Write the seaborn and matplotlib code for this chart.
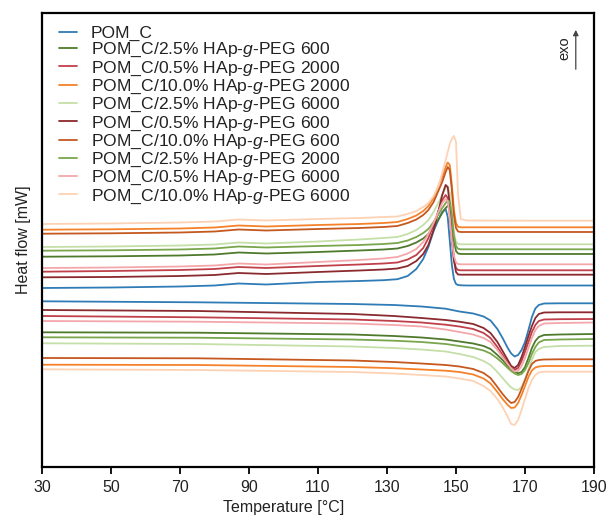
import matplotlib
matplotlib.use("Agg")
import matplotlib.pyplot as plt
import pandas as pd
import seaborn as sns
from matplotlib.lines import Line2D

# sample names (legend order) and colours
samples = [
    "POM_C",
    "POM_C/2.5% HAp-$\\mathit{g}$-PEG 600",
    "POM_C/0.5% HAp-$\\mathit{g}$-PEG 2000",
    "POM_C/10.0% HAp-$\\mathit{g}$-PEG 2000",
    "POM_C/2.5% HAp-$\\mathit{g}$-PEG 6000",
    "POM_C/0.5% HAp-$\\mathit{g}$-PEG 600",
    "POM_C/10.0% HAp-$\\mathit{g}$-PEG 600",
    "POM_C/2.5% HAp-$\\mathit{g}$-PEG 2000",
    "POM_C/0.5% HAp-$\\mathit{g}$-PEG 6000",
    "POM_C/10.0% HAp-$\\mathit{g}$-PEG 6000",
]
colors = ["#2f7bb6", "#4f7a2c", "#c0404a", "#f5822a", "#c5dfa8",
          "#8a2a2e", "#c4581f", "#79a64c", "#f4a7aa", "#fdd2b4"]

# temperature grids [°C]
T_cool = [30, 50, 70, 80, 87, 95, 110, 122, 129, 133, 136, 138.5, 140.5, 142, 143.5,
          145, 146, 147, 147.6, 148.2, 148.8, 149.4, 150, 150.6, 151.4, 153, 170, 190]
T_heat = [30, 75, 120, 132, 140, 147, 151, 155, 158, 160, 162, 163.5, 165, 166, 167,
          168, 169, 170, 171, 172, 173, 174, 175.5, 180, 190]

# heat flow, cooling runs (shifted, exo up)
cool_pom = [179, 179.5, 180.5, 181.5, 183.5, 182.5, 185, 186, 186.8, 187.8, 191, 198, 208, 220,
            236, 248, 255, 258, 250, 226, 202, 188, 183, 182, 181.7, 181.5, 181.5, 181.5]
cool_25_600 = [210.3, 210.7, 211.5, 212.5, 214.5, 213.5, 215, 216.5, 217.5, 218.5, 221, 224.5, 228.5,
               233, 240, 248, 254, 259, 261, 260, 247, 227, 216, 213.5, 213, 213, 213, 213]
cool_05_2000 = [195.3, 196, 197, 198, 200, 199, 201, 202.5, 203.5, 204.5, 207.5, 212, 219, 229,
                242, 257, 267, 272, 269, 252, 227, 207, 199, 197, 196.7, 196.7, 196.7, 196.7]
cool_10_2000 = [237.3, 237.7, 238.5, 239.5, 241.5, 240.5, 242, 243, 244, 245, 248, 251.5, 256, 261,
                269, 282, 290, 300, 304.5, 302, 282, 257, 244, 240.2, 239.7, 239.7, 239.7, 239.7]
cool_25_6000 = [220, 220.5, 221.5, 222.5, 224.5, 223.5, 225.5, 227.5, 229, 230, 233, 237, 242, 247,
                255, 265, 272, 279, 280, 274, 257, 235, 225, 223, 222.7, 222.7, 222.7, 222.7]
cool_05_600 = [189.7, 190, 191, 192, 194, 193, 195, 196.5, 197.5, 198.5, 201, 206, 213, 222,
               237, 257, 272, 282, 280, 262, 232, 207, 195, 192.5, 192.3, 192.3, 192.3, 192.3]
cool_10_600 = [233.3, 233.7, 234.5, 235.5, 237.5, 236.5, 238, 239, 240, 241, 244, 247.5, 252, 257,
               265, 277, 285, 295, 300, 297, 277, 252, 239, 235.5, 235, 235, 235, 235]
cool_25_2000 = [216.3, 216.7, 217.5, 218.5, 220.5, 219.5, 221, 222, 223, 224, 226.5, 230, 234, 238,
                245, 253, 259, 264, 266.5, 265, 252, 231, 221, 218.2, 217.7, 217.7, 217.7, 217.7]
cool_05_6000 = [199, 199.5, 200.5, 201.5, 203.5, 202.5, 205, 207, 208.5, 210, 213.5, 218, 225, 233,
                244, 256, 264, 268, 266, 250, 227, 211, 204.5, 203, 202.7, 202.7, 202.7, 202.7]
cool_10_6000 = [243, 243.5, 244.5, 245.5, 247.5, 246.5, 248, 249, 250, 250.5, 253, 256, 260, 264,
                271, 282, 294, 307, 315, 323, 328, 331, 325, 272, 248, 246.5, 246.3, 246.3]

# heat flow, heating runs (shifted)
heat_pom = [165.7, 164.7, 163, 162, 160.5, 158.3, 155.5, 153.5, 150.5, 146.5, 138, 129, 119,
            113.5, 110.5, 112, 117, 125, 137, 150, 158.5, 162, 163.5, 163.7, 163.7]
heat_25_600 = [134.7, 134.3, 132.5, 131, 129.5, 127.5, 125.5, 123.5, 121, 118, 112, 107, 101,
               97.5, 95, 93.7, 95, 100, 109, 119, 126, 130, 132, 132.5, 133]
heat_05_2000 = [151, 149.7, 147.5, 146, 144.5, 142.3, 140.5, 138, 134, 129, 120, 112, 104,
                99, 97, 99, 106, 115, 125, 135, 142, 146, 147.5, 147.8, 148]
heat_10_2000 = [102.3, 102, 100, 98.8, 97.5, 96.3, 95, 92.5, 88.5, 83.5, 75, 68, 62,
                59, 59.5, 64, 72, 81, 90, 96.5, 99.5, 100.5, 101, 101, 101]
heat_25_6000 = [123.7, 123, 120.5, 119, 117.5, 115.5, 113, 110, 106, 102, 95, 89, 83,
                79.5, 77.5, 77, 80, 87, 97, 107, 115, 118, 120, 121, 121.3]
heat_05_600 = [157, 156, 153, 151, 149, 147, 145.3, 143, 139, 134, 125, 116, 107,
               101, 99, 102, 110, 120, 131, 141, 149, 153, 154.5, 154.7, 154.7]
heat_10_600 = [109, 108.7, 106.5, 105, 103.5, 102, 100.5, 98, 94, 89, 80, 73, 67,
               64, 65, 70, 78, 87, 96, 103, 106, 107, 107.5, 107.7, 107.7]
heat_25_2000 = [129.7, 129.3, 127.5, 126.3, 125, 123, 121, 119, 116.5, 113.5, 108.5, 104, 99,
                96, 93.5, 92, 93, 97, 104, 113, 120, 124.5, 127, 127.5, 128]
heat_05_6000 = [146, 145.3, 143.5, 142, 140.5, 137.5, 135, 132.5, 129, 125, 117, 110, 103,
                98.5, 95.5, 96, 101, 109, 119, 129, 137, 141, 143.5, 144, 144.5]
heat_10_6000 = [97.7, 97, 95, 93.5, 92, 90.5, 88.5, 86, 81, 76, 68, 60, 50,
                43, 42, 47, 57, 68, 79, 87, 92, 94.5, 95.3, 95.3, 95.3]

cool_runs = [cool_pom, cool_25_600, cool_05_2000, cool_10_2000, cool_25_6000,
             cool_05_600, cool_10_600, cool_25_2000, cool_05_6000, cool_10_6000]
heat_runs = [heat_pom, heat_25_600, heat_05_2000, heat_10_2000, heat_25_6000,
             heat_05_600, heat_10_600, heat_25_2000, heat_05_6000, heat_10_6000]

# long format table
rows = []
for name, c, h in zip(samples, cool_runs, heat_runs):
    for t, v in zip(T_cool, c):
        rows.append((name, name + " cool", t, v))
    for t, v in zip(T_heat, h):
        rows.append((name, name + " heat", t, v))
df = pd.DataFrame(rows, columns=["sample", "run", "T", "hf"])

sns.set_theme(style="ticks")
plt.rcParams["font.family"] = ["Liberation Sans", "DejaVu Sans"]
plt.rcParams["mathtext.fontset"] = "custom"
plt.rcParams["mathtext.it"] = "Liberation Sans:italic"
plt.rcParams["mathtext.rm"] = "Liberation Sans"

fig = plt.figure(figsize=(6.11, 5.25), dpi=100)
ax = fig.add_axes([42 / 611, 1 - 467 / 525, 552 / 611, 454 / 525])

sns.lineplot(data=df, x="T", y="hf", hue="sample", units="run", estimator=None,
             hue_order=samples, palette=colors, linewidth=1.3, sort=False,
             legend=False, ax=ax)

ax.set_xlim(30, 190)
ax.set_ylim(0, 454)
ax.set_xticks(range(30, 191, 20))
ax.set_yticks([])
ax.tick_params(axis="x", direction="out", length=5, width=1.3, labelsize=11.5,
               colors="black", pad=4)
ax.tick_params(axis="x", labelcolor="#222222")
for s in ax.spines.values():
    s.set_linewidth(1.6)
    s.set_color("black")
ax.set_xlabel("Temperature [°C]", fontsize=11.5, color="#222222", x=0.437)
ax.set_ylabel("Heat flow [mW]", fontsize=11.5, color="#222222", labelpad=8)

handles = [Line2D([], [], color=c, lw=1.3) for c in colors]
ax.legend(handles, samples, loc="upper left", bbox_to_anchor=(0.03, 0.972),
          frameon=False, fontsize=12.6, labelspacing=0.0, handlelength=1.05,
          handletextpad=0.8, borderpad=0, borderaxespad=0, labelcolor="#222222")

# exo arrow
ax.annotate("", xy=(0.967, 0.969), xytext=(0.967, 0.870), xycoords="axes fraction",
            arrowprops=dict(arrowstyle="-|>", color="#444444", lw=0.9, mutation_scale=8))
ax.text(0.947, 0.922, "exo", transform=ax.transAxes, rotation=90, fontsize=10.5,
        ha="center", va="center", color="#222222")

fig.savefig("out.png", dpi=100)
